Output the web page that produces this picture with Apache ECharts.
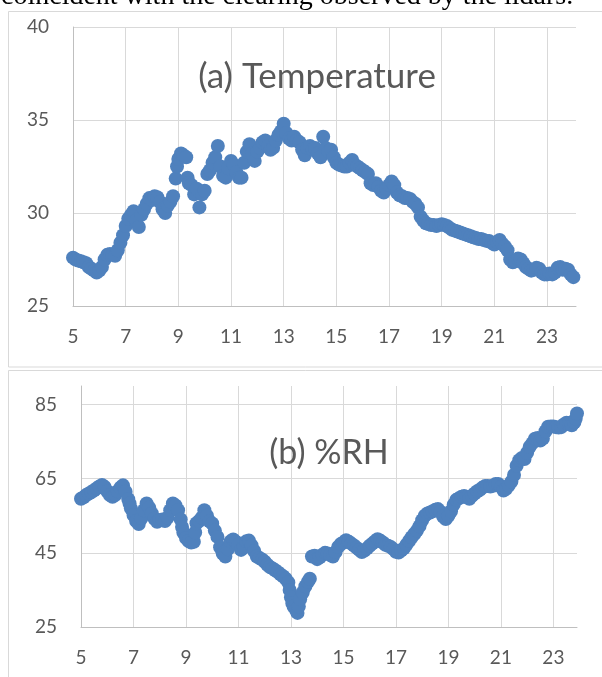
<!DOCTYPE html>
<html>
<head>
<meta charset="utf-8">
<script src="https://cdn.jsdelivr.net/npm/echarts@6/dist/echarts.min.js"></script>
<style>
html,body{margin:0;padding:0;background:#fff;}
#chart{width:602px;height:677px;}
</style>
</head>
<body>
<div id="chart"></div>
<script>
// ---- data ----
const headerText = 'coincident with the clearing observed by the lidars.';
const tempTitle = '(a) Temperature';
const rhTitle = '(b) %RH';

const tempHours = [5.0,5.1,5.2,5.3,5.4,5.5,5.6,5.7,5.8,5.9,6.0,6.1,6.2,6.3,6.4,6.5,6.6,6.7,6.8,6.9,
  7.0,7.1,7.2,7.3,7.4,7.5,7.6,7.7,7.8,7.9,8.0,8.1,8.2,8.3,8.4,8.5,8.6,8.7,8.8,8.9,8.95,
  9.0,9.1,9.2,9.3,9.35,9.4,9.5,9.6,9.7,9.8,9.9,10.0,10.1,10.2,10.3,10.4,10.5,10.6,10.7,10.8,10.9,
  11.0,11.1,11.2,11.3,11.4,11.5,11.6,11.7,11.8,11.9,12.0,12.1,12.2,12.3,12.4,12.5,12.6,12.7,12.8,12.9,
  13.0,13.1,13.2,13.3,13.4,13.5,13.6,13.7,13.8,13.9,14.0,14.1,14.2,14.3,14.4,14.5,14.6,14.7,14.8,14.9,
  15.0,15.1,15.2,15.3,15.4,15.5,15.6,15.7,15.8,15.9,16.0,16.1,16.2,16.3,16.4,16.5,16.6,16.7,16.8,16.9,
  17.0,17.1,17.2,17.3,17.4,17.5,17.6,17.7,17.8,17.9,18.0,18.1,18.2,18.3,18.4,18.5,18.6,18.7,18.8,18.9,
  19.0,19.1,19.2,19.3,19.4,19.5,19.6,19.7,19.8,19.9,20.0,20.1,20.2,20.3,20.4,20.5,20.6,20.7,20.8,20.9,
  21.0,21.1,21.2,21.3,21.4,21.5,21.6,21.7,21.8,21.9,22.0,22.1,22.2,22.3,22.4,22.5,22.6,22.7,22.8,22.9,
  23.0,23.1,23.2,23.3,23.4,23.5,23.6,23.7,23.8,23.9,24.0];
const tempValues = [27.6,27.5,27.45,27.4,27.35,27.3,27.1,27.0,26.9,26.8,26.9,27.1,27.5,27.75,27.8,27.75,27.7,28.0,28.4,28.8,
  29.3,29.7,29.9,30.1,29.6,29.25,29.9,30.2,30.5,30.8,30.7,30.9,30.85,30.6,30.2,30.0,30.4,30.6,30.9,31.85,32.5,
  32.9,33.2,33.1,33.0,31.9,31.6,31.5,31.0,31.3,30.3,31.0,31.2,32.1,32.3,32.7,33.0,33.6,32.5,32.0,31.9,32.4,
  32.8,32.6,32.2,31.9,31.9,32.7,33.3,33.7,33.2,32.8,33.3,33.5,33.8,33.9,33.6,33.4,33.5,33.9,34.2,34.4,
  34.8,34.3,34.0,33.9,34.1,33.9,33.8,33.4,33.1,33.5,33.6,33.4,33.5,33.2,33.0,34.1,33.5,33.3,33.4,33.0,
  32.7,32.6,32.55,32.5,32.5,32.7,32.85,32.6,32.5,32.4,32.3,32.2,32.1,31.6,31.5,31.6,31.4,31.2,31.1,31.3,
  31.5,31.7,31.5,31.1,30.95,30.9,30.8,30.8,30.75,30.6,30.5,30.3,29.8,29.6,29.45,29.4,29.35,29.35,29.3,29.35,
  29.4,29.35,29.3,29.2,29.1,29.05,29.0,28.95,28.9,28.85,28.8,28.75,28.7,28.65,28.6,28.6,28.55,28.5,28.5,28.4,
  28.3,28.45,28.55,28.35,28.2,28.0,27.5,27.35,27.4,27.55,27.5,27.3,27.1,27.0,26.9,26.95,27.05,27.0,26.8,26.7,
  26.7,26.75,26.7,26.8,27.05,27.1,26.95,27.0,26.95,26.7,26.55];

const rhHours = [5.0,5.1,5.2,5.3,5.4,5.5,5.6,5.7,5.8,5.9,6.0,6.1,6.2,6.3,6.4,6.5,6.6,6.7,6.8,6.85,6.9,
  7.0,7.1,7.2,7.3,7.4,7.5,7.6,7.7,7.8,7.9,8.0,8.1,8.2,8.3,8.4,8.5,8.6,8.7,8.8,8.85,8.9,
  9.0,9.1,9.2,9.3,9.35,9.4,9.5,9.6,9.7,9.8,9.9,10.0,10.1,10.2,10.3,10.4,10.5,10.6,10.7,10.8,10.9,
  11.0,11.1,11.2,11.3,11.4,11.5,11.6,11.7,11.8,11.9,12.0,12.1,12.2,12.3,12.4,12.5,12.6,12.7,12.8,12.9,12.95,
  13.0,13.05,13.1,13.2,13.25,13.3,13.35,13.45,13.55,13.65,13.72,13.8,13.9,14.0,14.1,14.2,14.3,14.4,14.5,14.6,14.7,14.8,14.9,
  15.0,15.1,15.2,15.3,15.4,15.5,15.6,15.7,15.8,15.9,16.0,16.1,16.2,16.3,16.4,16.5,16.6,16.7,16.8,16.9,
  17.0,17.1,17.2,17.3,17.4,17.5,17.6,17.7,17.8,17.9,18.0,18.1,18.2,18.3,18.4,18.5,18.6,18.7,18.8,18.9,
  19.0,19.1,19.2,19.3,19.4,19.5,19.6,19.7,19.8,19.9,20.0,20.1,20.2,20.3,20.4,20.5,20.6,20.7,20.8,20.9,
  21.0,21.1,21.2,21.3,21.4,21.5,21.6,21.7,21.8,21.9,22.0,22.1,22.2,22.3,22.4,22.5,22.6,22.7,22.8,22.9,
  23.0,23.1,23.2,23.3,23.4,23.5,23.6,23.7,23.8,23.85,23.9];
const rhValues = [59.6,60.0,60.6,61.0,61.4,61.9,62.4,62.9,63.3,62.8,61.6,60.6,60.1,60.6,61.6,62.6,63.2,61.5,59.5,58.3,57.0,
  55.2,53.6,52.8,54.3,56.5,58.3,57.2,55.6,54.2,53.4,53.8,54.0,53.6,54.5,56.5,58.3,57.8,56.5,54.0,52.0,50.5,
  49.0,48.2,47.8,48.0,50.5,53.0,53.6,54.5,56.5,55.0,53.5,52.9,51.0,49.3,46.5,44.8,44.0,46.0,48.1,48.6,48.0,
  47.2,45.8,46.5,48.1,48.3,47.0,45.5,44.0,43.6,43.2,42.6,41.8,41.2,40.8,40.3,39.8,39.2,38.7,38.0,37.0,35.0,
  33.0,31.5,30.5,29.5,28.8,30.5,32.5,34.3,36.0,37.2,38.0,44.0,44.2,43.3,43.8,44.5,45.0,44.8,44.4,44.0,45.2,46.6,47.4,
  47.8,48.4,48.0,47.5,47.0,46.4,45.8,45.2,45.6,46.2,46.9,47.5,48.1,48.7,48.3,47.8,47.2,46.9,46.6,46.0,
  45.3,45.1,45.6,46.2,47.2,48.2,49.2,50.1,51.0,52.2,53.8,55.0,55.6,55.9,56.2,56.6,56.8,56.0,54.8,54.1,
  55.0,56.2,58.0,59.3,59.7,60.1,60.3,60.0,59.6,60.4,61.0,61.6,62.0,62.6,63.0,63.0,62.9,63.1,63.6,63.6,
  62.8,61.8,62.3,63.2,64.2,66.0,68.5,70.0,70.6,70.3,72.0,73.6,74.6,75.8,76.0,75.3,75.8,77.8,79.0,79.1,
  79.1,78.9,78.8,78.9,79.6,80.1,80.0,79.4,80.2,81.2,82.6];

const tempAxis = { min: 25, max: 40, interval: 5 };
const rhAxis = { min: 25, max: 90, interval: 20 };
const hourAxisTop = { min: 5, max: 24.1, interval: 2 };
const hourAxisBottom = { min: 5, max: 23.9, interval: 2 };

// ---- chart ----
const toPairs = (xs, ys) => xs.map((x, i) => [x, ys[i]]);
const FONT = 'Lato, "Open Sans", sans-serif';
const LABEL = { color: '#595959', fontSize: 19, fontFamily: FONT };
const GRIDLINE = { color: '#d9d9d9', width: 1 };
const AXISLINE = { color: '#bfbfbf', width: 1 };
const DOT = '#4f81bd';

function xAxis(idx, ax) {
  return {
    type: 'value', gridIndex: idx, min: ax.min, max: ax.max, interval: ax.interval,
    axisLine: { show: true, lineStyle: AXISLINE }, axisTick: { show: false },
    axisLabel: Object.assign({ margin: 21, showMaxLabel: false }, LABEL),
    splitLine: { show: true, lineStyle: GRIDLINE, showMinLine: false, showMaxLine: false }
  };
}
function yAxis(idx, ax, showMax) {
  return {
    type: 'value', gridIndex: idx, min: ax.min, max: ax.max, interval: ax.interval,
    axisLine: { show: true, lineStyle: AXISLINE }, axisTick: { show: false },
    axisLabel: Object.assign({ margin: 24, showMaxLabel: showMax }, LABEL),
    splitLine: { show: true, lineStyle: GRIDLINE, showMinLine: false, showMaxLine: showMax }
  };
}

const chart = echarts.init(document.getElementById('chart'), null, { renderer: 'canvas' });
chart.setOption({
  animation: false,
  backgroundColor: '#ffffff',
  grid: [
    { left: 73, right: 26, top: 27, height: 279 },
    { left: 81, right: 25, top: 386, height: 241 }
  ],
  xAxis: [xAxis(0, hourAxisTop), xAxis(1, hourAxisBottom)],
  yAxis: [yAxis(0, tempAxis, true), yAxis(1, rhAxis, false)],
  series: [
    { type: 'scatter', xAxisIndex: 0, yAxisIndex: 0, symbol: 'circle', symbolSize: 14,
      itemStyle: { color: DOT, opacity: 1 }, data: toPairs(tempHours, tempValues), z: 3 },
    { type: 'scatter', xAxisIndex: 1, yAxisIndex: 1, symbol: 'circle', symbolSize: 14,
      itemStyle: { color: DOT, opacity: 1 }, data: toPairs(rhHours, rhValues), z: 3 }
  ],
  graphic: [
    { type: 'rect', shape: { x: 8.5, y: 11.5, width: 700, height: 355.5 },
      style: { fill: 'none', stroke: '#d9d9d9', lineWidth: 1 }, z: 0 },
    { type: 'rect', shape: { x: 8.5, y: 370.5, width: 700, height: 400 },
      style: { fill: 'none', stroke: '#d9d9d9', lineWidth: 1 }, z: 0 },
    { type: 'text', x: 1, y: -3, z: 10,
      style: { text: headerText, font: '28px "Liberation Serif", "Times New Roman", serif',
               fill: '#000', align: 'left', verticalAlign: 'middle' } },
    { type: 'text', x: 317, y: 77, z: 10,
      style: { text: tempTitle, font: '35px ' + FONT, fill: '#595959', align: 'center', verticalAlign: 'middle' } },
    { type: 'text', x: 329, y: 453, z: 10,
      style: { text: rhTitle, font: '34px ' + FONT, fill: '#595959', align: 'center', verticalAlign: 'middle' } }
  ]
});
</script>
</body>
</html>
